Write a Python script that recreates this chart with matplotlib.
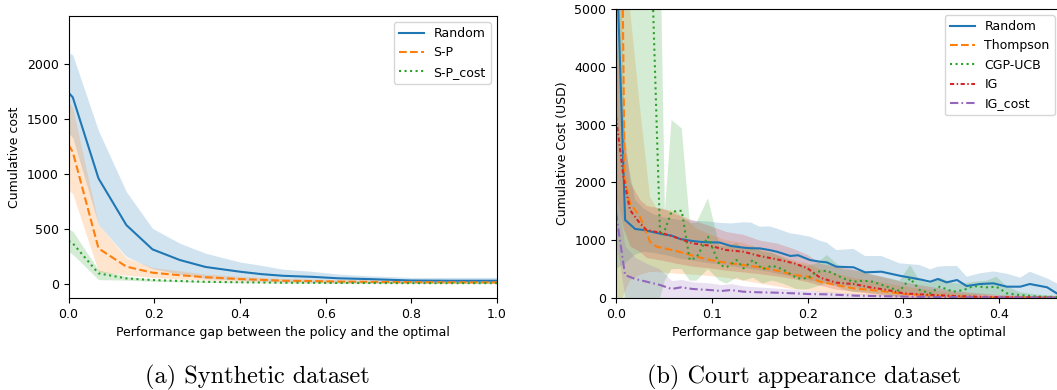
import matplotlib
matplotlib.use("Agg")
import matplotlib.pyplot as plt

plt.rcParams['font.family'] = ['DejaVu Sans']
plt.rcParams['font.size'] = 9

# ---------------- (a) Synthetic dataset ----------------
syn_x = [0.0, 0.01, 0.07, 0.135, 0.196, 0.26, 0.32, 0.4, 0.45, 0.5, 0.57, 0.63, 0.7, 0.8, 0.9, 1.0]
syn_random = [1740, 1697, 960, 536, 315, 218, 155, 112, 90, 75, 65, 52, 45, 32, 30, 30]
syn_random_hi = [2103, 2082, 1394, 839, 506, 370, 280, 200, 170, 135, 115, 90, 75, 60, 60, 60]
syn_random_lo = [1370, 1330, 540, 250, 140, 90, 50, 35, 25, 20, 15, 12, 10, 10, 10, 10]
syn_sp = [1264, 1200, 324, 158, 103, 80, 62, 45, 38, 30, 27, 22, 20, 17, 15, 15]
syn_sp_hi = [1657, 1600, 540, 240, 150, 120, 90, 70, 60, 50, 45, 40, 35, 30, 28, 28]
syn_sp_lo = [855, 820, 112, 80, 60, 45, 35, 25, 20, 18, 15, 12, 10, 8, 8, 8]
syn_spc = [391, 370, 97, 51, 36, 28, 20, 16, 14, 12, 11, 10, 9, 8, 8, 8]
syn_spc_hi = [500, 480, 127, 70, 45, 35, 28, 22, 20, 18, 16, 14, 12, 11, 10, 10]
syn_spc_lo = [294, 270, 40, 35, 25, 20, 15, 12, 10, 8, 7, 6, 5, 5, 5, 5]

# ---------------- (b) Court appearance dataset ----------------
rand_x = [0, 0.0095, 0.02, 0.0285, 0.039, 0.049, 0.058, 0.067, 0.08, 0.089, 0.098, 0.108,
          0.12, 0.133, 0.141, 0.15, 0.16, 0.168, 0.182, 0.19, 0.2025, 0.213, 0.22, 0.23,
          0.248, 0.26, 0.277, 0.296, 0.317, 0.328, 0.336, 0.345, 0.356, 0.366, 0.38, 0.394,
          0.408, 0.422, 0.432, 0.45, 0.46, 0.47]
rand_y = [6200, 1350, 1194, 1177, 1140, 1102, 1080, 1021, 986, 970, 963, 960,
          900, 871, 860, 859, 830, 801, 727, 740, 657, 628, 617, 542,
          531, 444, 455, 386, 323, 282, 329, 271, 311, 207, 242, 254,
          196, 196, 242, 185, 81, 50]
rand_hi = [9500, 2600, 1700, 1550, 1450, 1400, 1370, 1350, 1340, 1330, 1321, 1300,
           1290, 1310, 1305, 1234, 1240, 1200, 1119, 1100, 1060, 990, 957, 830,
           849, 727, 727, 600, 571, 496, 542, 554, 554, 369, 427, 460,
           420, 352, 455, 340, 254, 200]
rand_lo = [500, 600, 750, 800, 780, 750, 720, 680, 650, 620, 600, 580,
           550, 520, 500, 480, 450, 420, 380, 350, 300, 280, 260, 220,
           200, 150, 150, 100, 60, 40, 40, 30, 30, 10, 10, 10,
           0, 0, 0, 0, 0, 0]

thom_x = [0, 0.0065, 0.009, 0.0146, 0.025, 0.0355, 0.0425, 0.063, 0.084, 0.098, 0.115,
          0.133, 0.15, 0.168, 0.186, 0.2, 0.213, 0.23, 0.248, 0.265, 0.283, 0.3, 0.33,
          0.36, 0.4, 0.47]
thom_y = [25000, 6000, 2100, 1640, 1407, 974, 888, 813, 715, 657, 610,
          571, 531, 473, 398, 369, 282, 225, 167, 140, 109, 69, 40,
          25, 10, 5]
thom_hi = [30000, 12000, 8000, 5000, 3300, 1750, 1550, 1500, 1200, 1100, 1000,
           950, 850, 750, 650, 600, 500, 420, 350, 300, 250, 200, 130,
           80, 40, 20]
thom_lo = [0, 0, 100, 300, 400, 450, 450, 420, 400, 380, 350,
           300, 250, 200, 150, 130, 100, 80, 60, 40, 20, 0, 0,
           0, 0, 0]

ucb_x = [0, 0.01, 0.02, 0.03, 0.038, 0.046, 0.051, 0.058, 0.0686, 0.077, 0.084, 0.096,
         0.108, 0.1155, 0.126, 0.133, 0.143, 0.153, 0.163, 0.174, 0.189, 0.2, 0.21, 0.22,
         0.23, 0.237, 0.248, 0.258, 0.268, 0.283, 0.296, 0.307, 0.317, 0.328, 0.338, 0.352,
         0.363, 0.373, 0.387, 0.397, 0.408, 0.422, 0.44, 0.456, 0.47]
ucb_y = [15000, 12000, 10000, 8000, 5400, 1090, 1177, 1493, 1510, 657, 700, 1061,
         571, 531, 657, 513, 657, 498, 560, 498, 340, 340, 455, 473,
         400, 340, 282, 300, 282, 196, 121, 340, 138, 81, 196, 109,
         138, 207, 184, 196, 81, 50, 25, 20, 15]
ucb_hi = [30000, 25000, 20000, 15000, 10000, 6500, 1500, 3080, 2935, 1300, 1300, 1725,
          900, 900, 950, 850, 900, 800, 780, 700, 600, 560, 600, 744,
          600, 500, 480, 450, 400, 350, 300, 571, 300, 250, 350, 260,
          250, 280, 300, 369, 200, 100, 60, 40, 30]
ucb_lo = [0, 0, 0, 0, 0, 0, 300, 500, 500, 300, 300, 500,
          300, 250, 350, 300, 350, 250, 300, 250, 150, 150, 200, 250,
          200, 150, 100, 100, 80, 50, 20, 100, 20, 0, 50, 0,
          20, 50, 50, 50, 0, 0, 0, 0, 0]

ig_x = [0, 0.0077, 0.0146, 0.025, 0.0318, 0.049, 0.063, 0.08, 0.098, 0.115, 0.133,
        0.15, 0.168, 0.186, 0.2, 0.213, 0.23, 0.248, 0.265, 0.283, 0.3, 0.317, 0.335,
        0.352, 0.37, 0.4, 0.47]
ig_y = [3140, 2100, 1522, 1292, 1177, 1119, 1044, 946, 905, 830, 801,
        727, 669, 600, 513, 352, 265, 242, 185, 138, 81, 63, 50,
        35, 25, 15, 5]
ig_hi = [4500, 3000, 2000, 1700, 1600, 1550, 1450, 1350, 1250, 1150, 1100,
         1000, 950, 850, 750, 600, 550, 500, 420, 350, 280, 230, 180,
         130, 100, 60, 20]
ig_lo = [1800, 1200, 900, 800, 700, 650, 600, 550, 520, 480, 450,
         420, 380, 330, 280, 220, 150, 120, 80, 50, 20, 0, 0,
         0, 0, 0, 0]

igc_x = [0, 0.0094, 0.02, 0.032, 0.046, 0.058, 0.068, 0.08, 0.098, 0.11, 0.12, 0.133,
         0.15, 0.168, 0.186, 0.2, 0.22, 0.25, 0.3, 0.35, 0.4, 0.47]
igc_y = [1480, 398, 329, 282, 225, 156, 185, 156, 138, 121, 138, 109,
         98, 92, 81, 69, 63, 40, 25, 15, 10, 5]
igc_hi = [1900, 900, 700, 600, 500, 300, 320, 280, 260, 230, 250, 210,
          190, 170, 150, 130, 110, 80, 50, 35, 25, 15]
igc_lo = [1000, 0, 0, 0, 0, 0, 0, 0, 0, 0, 0, 0,
          0, 0, 0, 0, 0, 0, 0, 0, 0, 0]

W, H = 1057, 390
fig = plt.figure(figsize=(W / 100, H / 100), dpi=100)

# ---- left panel ----
ax1 = fig.add_axes([68.5 / W, 1 - 298 / H, (497 - 68.5) / W, (298 - 16) / H])
series_a = [
    ("Random", syn_random, syn_random_lo, syn_random_hi, "C0", "-"),
    ("S-P", syn_sp, syn_sp_lo, syn_sp_hi, "C1", "--"),
    ("S-P_cost", syn_spc, syn_spc_lo, syn_spc_hi, "C2", ":"),
]
for name, m, lo, hi, c, ls in series_a:
    ax1.plot(syn_x, m, color=c, ls=ls, lw=1.5, label=name)
    ax1.fill_between(syn_x, lo, hi, color=c, alpha=0.2, lw=0)
ax1.set_xlim(0, 1.0)
ax1.set_ylim(-127, 2436)
ax1.set_xticks([0, 0.2, 0.4, 0.6, 0.8, 1.0])
ax1.set_yticks([0, 500, 1000, 1500, 2000])
ax1.set_xlabel("Performance gap between the policy and the optimal")
ax1.set_ylabel("Cumulative cost")
ax1.legend(loc="upper right")

# ---- right panel ----
ax2 = fig.add_axes([616 / W, 1 - 298 / H, (1061 - 616) / W, (298 - 9) / H])
series_b = [
    ("Random", rand_x, rand_y, rand_lo, rand_hi, "C0", "-"),
    ("Thompson", thom_x, thom_y, thom_lo, thom_hi, "C1", "--"),
    ("CGP-UCB", ucb_x, ucb_y, ucb_lo, ucb_hi, "C2", ":"),
    ("IG", ig_x, ig_y, ig_lo, ig_hi, "C3", (0, (2.0, 1.2, 0.7, 1.2))),
    ("IG_cost", igc_x, igc_y, igc_lo, igc_hi, "C4", (0, (4.0, 1.5, 0.8, 1.5))),
]
for name, x, m, lo, hi, c, ls in series_b:
    ax2.plot(x, m, color=c, ls=ls, lw=1.5, label=name)
    ax2.fill_between(x, lo, hi, color=c, alpha=0.2, lw=0)
ax2.set_xlim(0, (1061 - 616) / 958)
ax2.set_ylim(0, 5000)
ax2.set_xticks([0, 0.1, 0.2, 0.3, 0.4])
ax2.set_yticks([0, 1000, 2000, 3000, 4000, 5000])
ax2.set_xlabel("Performance gap between the policy and the optimal")
ax2.set_ylabel("Cumulative Cost (USD)")
ax2.legend(loc="upper right")

fig.text(257 / W, 1 - 377 / H, "(a) Synthetic dataset", fontname="cmr10",
         fontsize=17.5, ha="center", va="center")
fig.text(804 / W, 1 - 377 / H, "(b) Court appearance dataset", fontname="cmr10",
         fontsize=17.5, ha="center", va="center")

fig.savefig("out.png", dpi=100)
